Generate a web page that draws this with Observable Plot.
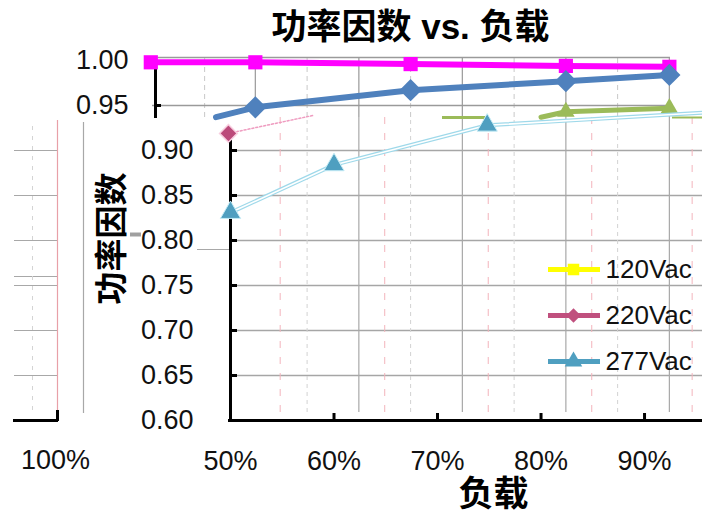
<!DOCTYPE html>
<html><head><meta charset="utf-8">
<script src="https://cdn.jsdelivr.net/npm/d3@7"></script>
<script src="https://cdn.jsdelivr.net/npm/@observablehq/plot@0.6"></script>
<style>
html,body{margin:0;padding:0;background:#fff;}
#chart{width:702px;height:518px;overflow:hidden;}
</style></head><body><div id="chart"></div>
<script>
// ---------- data ----------
const titleText = "功率因数 vs. 负载";
const yTitle = "功率因数";
const xTitle = "负载";
const seriesNames = ["120Vac", "220Vac", "277Vac"];
const seriesColors = ["#ffff00", "#c0507e", "#4f9fc0"];
const seriesSymbols = ["square", "diamond2", "triangle"];
const yTicksMain = [0.60, 0.65, 0.70, 0.75, 0.80, 0.85, 0.90];
const yTicksTop = [1.00, 0.95];
const xTicks = [50, 60, 70, 80, 90];
const ghostXLabel = "100%";
// main panel
const load220 = [49.8, 58.0];
const pf220 = [0.919, 0.939];
const mark220 = [true, false];
const load277 = [50, 60, 74.8, 95.6];
const pf277 = [0.831, 0.884, 0.928, 0.942];
const mark277 = [true, true, true, false];
// top panel (offset copy)
const topLoad120 = [42.3, 52.4, 67.4, 82.4, 92.4];
const topPf120 = [0.998, 0.998, 0.996, 0.994, 0.993];
const topLoad220 = [48.6, 52.4, 67.4, 82.4, 92.4];
const topPf220 = [0.937, 0.948, 0.967, 0.977, 0.984];
const topMark220 = [false, true, true, true, true];
const topLoad277 = [80.0, 82.4, 92.4];
const topPf277 = [0.937, 0.943, 0.947];
const topMark277 = [false, true, true];
// grid lines
const gridSolid = [62.4, 72.4, 82.4, 92.4];
const gridSolidTop = [52.4, 62.4, 72.4, 82.4, 92.4];
const gridDashGray = [57.4, 67.4, 77.4, 87.4];
const gridDashGrayTop = [47.5, 57.4, 67.4, 77.4, 87.4];
const gridDashPink = [54.8, 64.9, 74.9, 84.9, 94.6];
const ghostGrid = [0.90, 0.85, 0.80, 0.76, 0.75, 0.70, 0.65];

// ---------- layout ----------
const W = 702, H = 518, mL = 230, mT = 60, mB = 98, mR = 0;
const xDom = [50, 95.6], yDom = [0.6, 1.0];
const px2x = px => xDom[0] + (px - mL) / (W - mL - mR) * (xDom[1] - xDom[0]);
const py2y = py => yDom[0] + (H - mB - py) / (H - mB - mT) * (yDom[1] - yDom[0]);

const rows = (xs, ys, ms) => xs.map((x, i) => ({x, y: ys[i], m: ms ? ms[i] : true}));
const r120t = rows(topLoad120, topPf120);
const r220t = rows(topLoad220, topPf220, topMark220);
const r277t = rows(topLoad277, topPf277, topMark277);
const r220 = rows(load220, pf220, mark220);
const r277 = rows(load277, pf277, mark277);

const topBottom = py2y(117), topTop = py2y(57);
const legendRows = seriesNames.map((n, i) => ({n, c: seriesColors[i], s: seriesSymbols[i], y: py2y(269 + i * 46)}));
const font = "'Liberation Sans', Arial, 'Noto Sans CJK SC', sans-serif";

const chart = Plot.plot({
  width: W, height: H,
  marginLeft: mL, marginTop: mT, marginBottom: mB, marginRight: mR,
  x: {domain: xDom}, y: {domain: yDom},
  style: {fontFamily: font, background: "#fff", overflow: "visible"},
  marks: [
    // top panel grid
    Plot.ruleX(gridSolidTop, {x: d => d, y1: topBottom, y2: topTop, stroke: "#a0a0a0", strokeWidth: 1.3}),
    Plot.ruleX(gridDashGrayTop, {x: d => d, y1: topBottom, y2: topTop, stroke: "#c8c8c8", strokeDasharray: "5,4"}),
    Plot.ruleY([topTop, 0.95], {y: d => d, x1: px2x(152), x2: px2x(670), stroke: "#9a9a9a", strokeWidth: 1.6}),
    // main grid
    Plot.ruleY(yTicksMain.slice(1), {y: d => d, x1: xDom[0], x2: xDom[1], stroke: "#a6a6a6", strokeWidth: 1.5}),
    Plot.ruleX(gridSolid, {x: d => d, y1: py2y(412), y2: topBottom, stroke: "#a8a8a8", strokeWidth: 1.2}),
    Plot.ruleX(gridDashGray, {x: d => d, y1: py2y(412), y2: topBottom, stroke: "#d2d2d2", strokeDasharray: "4,4"}),
    Plot.ruleX(gridDashPink, {x: d => d, y1: py2y(412), y2: topBottom, stroke: "#f3b4bc", strokeDasharray: "7,9"}),
    // ghost left panel
    Plot.ruleY(ghostGrid, {y: d => d, x1: px2x(14), x2: px2x(57), stroke: "#a8a8a8", strokeWidth: 1.2}),
    Plot.ruleX([px2x(32)], {x: d => d, y1: py2y(410), y2: py2y(122), stroke: "#d4d4d4", strokeDasharray: "4,6"}),
    Plot.ruleX([px2x(57)], {x: d => d, y1: py2y(420), y2: py2y(120), stroke: "#e8a0a8", strokeWidth: 1.2}),
    Plot.ruleX([px2x(83)], {x: d => d, y1: py2y(413), y2: py2y(122), stroke: "#a8a8a8", strokeWidth: 1.2}),
    Plot.ruleY([yDom[0]], {y: d => d, x1: px2x(13), x2: px2x(58), stroke: "#000", strokeWidth: 3}),
    Plot.ruleX([px2x(57)], {x: d => d, y1: py2y(421), y2: py2y(410), stroke: "#000", strokeWidth: 3}),
    Plot.ruleY([py2y(249)], {y: d => d, x1: px2x(197), x2: xDom[0], stroke: "#a8a8a8", strokeWidth: 1.2}),
    Plot.ruleY([py2y(234)], {y: d => d, x1: px2x(130), x2: px2x(141), stroke: "#a0a0a0", strokeWidth: 4}),
    // axes lines and ticks
    Plot.ruleX([xDom[0]], {x: d => d, y1: py2y(422), y2: py2y(140), stroke: "#000", strokeWidth: 3}),
    Plot.ruleY([yDom[0]], {y: d => d, x1: px2x(228), x2: xDom[1], stroke: "#000", strokeWidth: 3}),
    Plot.ruleY(yTicksMain.slice(1), {y: d => d, x1: xDom[0], x2: px2x(237), stroke: "#000", strokeWidth: 3}),
    Plot.ruleX(xTicks.slice(1), {x: d => d, y1: yDom[0], y2: py2y(413), stroke: "#000", strokeWidth: 3}),
    Plot.ruleX([px2x(155)], {x: d => d, y1: py2y(118), y2: py2y(64), stroke: "#000", strokeWidth: 3}),
    Plot.ruleY([0.95], {y: d => d, x1: px2x(155), x2: px2x(161), stroke: "#000", strokeWidth: 3}),
    // top panel series
    Plot.line(r120t, {x: "x", y: "y", stroke: "#ff00ff", strokeWidth: 6}),
    Plot.line(r220t, {x: "x", y: "y", stroke: "#4f81bd", strokeWidth: 6}),
    Plot.line(r277t, {x: "x", y: "y", stroke: "#9bbb59", strokeWidth: 5}),
    Plot.ruleY([topBottom], {y: d => d, x1: px2x(442), x2: px2x(488), stroke: "#9bbb59", strokeWidth: 3}),
    Plot.ruleY([topBottom], {y: d => d, x1: px2x(672), x2: xDom[1], stroke: "#9bbb59", strokeWidth: 2}),
    Plot.dot(r120t, {x: "x", y: "y", symbol: "square", r: 8, fill: "#ff00ff"}),
    Plot.dot(r220t.filter(d => d.m), {x: "x", y: "y", symbol: "diamond2", r: 10, fill: "#4f81bd"}),
    Plot.dot(r277t.filter(d => d.m), {x: "x", y: "y", symbol: "triangle", r: 6.5, fill: "#9bbb59"}),
    // main panel series
    Plot.line(r220, {x: "x", y: "y", stroke: "#ef9cc0", strokeWidth: 1.5, strokeDasharray: "2,2"}),
    Plot.line(r277, {x: "x", y: "y", stroke: "#9fd9ea", strokeWidth: 4}),
    Plot.line(r277, {x: "x", y: "y", stroke: "#ffffff", strokeWidth: 1.6}),
    Plot.dot(r220.filter(d => d.m), {x: "x", y: "y", symbol: "diamond2", r: 8, fill: "#bb4a7a", stroke: "#f8cfe0", strokeWidth: 1.5}),
    Plot.dot(r277.filter(d => d.m), {x: "x", y: "y", symbol: "triangle", r: 7.5, fill: "#4f9fc0", stroke: "#c4ecf6", strokeWidth: 1}),
    // axis labels
    Plot.axisY({ticks: yTicksMain, tickFormat: d => d.toFixed(2), tickSize: 0, tickPadding: 37, fontSize: 27, fill: "#111", label: null}),
    Plot.axisX({ticks: xTicks, tickFormat: d => d + "%", tickSize: 0, tickPadding: 30, fontSize: 27, fill: "#111", label: null}),
    Plot.text(yTicksTop, {x: () => px2x(128), y: d => d, text: d => d.toFixed(2), textAnchor: "end", fontSize: 27, fill: "#111"}),
    Plot.text([ghostXLabel], {x: () => px2x(55), y: () => py2y(460), text: d => d, fontSize: 27, fill: "#111"}),
    // titles
    Plot.text([titleText], {x: () => px2x(410), y: () => py2y(27), text: d => d, fontSize: 35, fontWeight: "bold", fill: "#000"}),
    Plot.text([yTitle], {x: () => px2x(112), y: () => py2y(238), text: d => d, rotate: -90, fontSize: 33, fontWeight: "bold", fill: "#000"}),
    Plot.text([xTitle], {x: () => px2x(493), y: () => py2y(494), text: d => d, fontSize: 35, fontWeight: "bold", fill: "#000"}),
    // legend
    Plot.ruleY(legendRows, {y: "y", x1: px2x(548), x2: px2x(600), stroke: "c", strokeWidth: 5}),
    Plot.dot(legendRows, {x: () => px2x(573), y: "y", symbol: "s", r: 6.5, fill: "c"}),
    Plot.text(legendRows, {x: () => px2x(605), y: "y", text: "n", textAnchor: "start", fontSize: 26, fill: "#111"})
  ]
});
document.getElementById("chart").appendChild(chart);
</script></body></html>
